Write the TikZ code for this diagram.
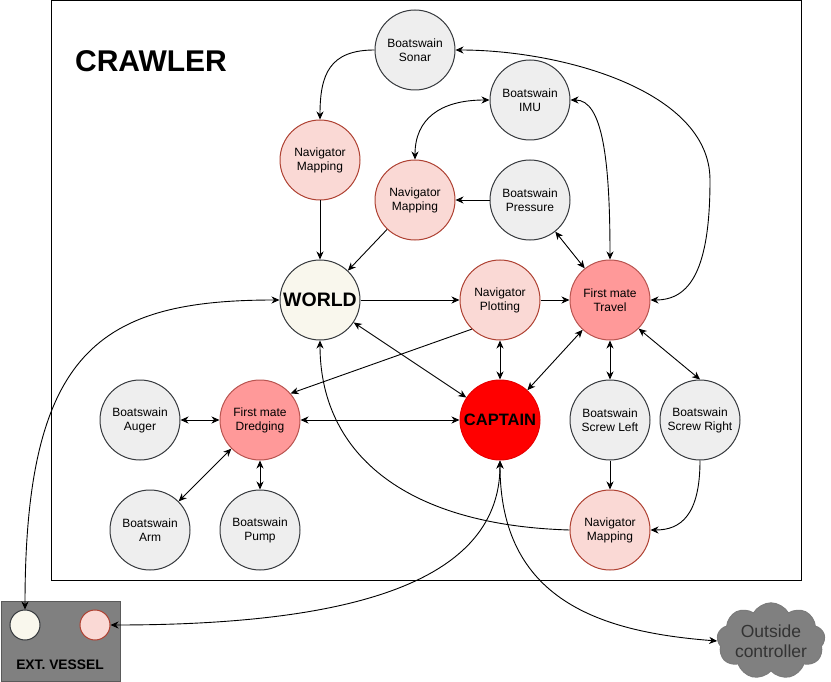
\documentclass[tikz,border=0pt]{standalone}
\usepackage{fontspec}
\setmainfont{Liberation Sans}
\usetikzlibrary{arrows.meta,shapes.symbols}
\definecolor{gfill}{HTML}{EEEEEE}
\definecolor{gline}{HTML}{36393D}
\definecolor{nfill}{HTML}{FAD9D5}
\definecolor{nline}{HTML}{AE4132}
\definecolor{ffill}{HTML}{FF9999}
\definecolor{fline}{HTML}{B85450}
\definecolor{wfill}{HTML}{F9F7ED}
\definecolor{cfill}{HTML}{FF0000}
\definecolor{cline}{HTML}{E60000}
\definecolor{vfill}{HTML}{808080}
\definecolor{vline}{HTML}{5A5A5A}
\definecolor{ctext}{HTML}{333333}
\tikzset{
  circ/.style={circle, minimum size=80pt, inner sep=0pt, line width=1pt, align=center,
    font=\fontsize{12}{14}\selectfont},
  bsw/.style={circ, fill=gfill, draw=gline},
  nav/.style={circ, fill=nfill, draw=nline},
  mate/.style={circ, fill=ffill, draw=fline},
  one/.style={line width=0.9pt, -{Stealth[length=8pt,width=7pt,inset=2.5pt]}},
  two/.style={line width=0.9pt, {Stealth[length=8pt,width=7pt,inset=2.5pt]}-{Stealth[length=8pt,width=7pt,inset=2.5pt]}},
}
\begin{document}
\begin{tikzpicture}[x=1pt,y=-1pt]
\useasboundingbox (0,0) rectangle (831,682);
\node[draw=black, line width=1pt, minimum width=750pt, minimum height=579pt, inner sep=0pt, anchor=north west] (frame) at (50.5,0.5) {};
\node[font=\fontsize{30}{32}\selectfont\bfseries] (crawler) at (151,61) {CRAWLER};

\node[bsw] (sonar) at (415,50) {Boatswain\\Sonar};
\node[bsw] (imu) at (530,100) {Boatswain\\IMU};
\node[nav] (nm1) at (320,160) {Navigator\\Mapping};
\node[nav] (nm2) at (415,200) {Navigator\\Mapping};
\node[bsw] (press) at (530,200) {Boatswain\\Pressure};
\node[circ, fill=wfill, draw=gline, font=\fontsize{19.5}{20}\selectfont\bfseries] (world) at (320,300) {WORLD};
\node[nav] (plot) at (500,300) {Navigator\\Plotting};
\node[mate] (travel) at (610,300) {First mate\\Travel};
\node[bsw] (auger) at (140,420) {Boatswain\\Auger};
\node[mate] (dredge) at (260,420) {First mate\\Dredging};
\node[circ, fill=cfill, draw=cline, font=\fontsize{16.5}{18}\selectfont\bfseries] (captain) at (500,420) {CAPTAIN};
\node[bsw] (sl) at (610,420) {Boatswain\\Screw Left};
\node[bsw] (sr) at (700,420) {Boatswain\\Screw Right};
\node[bsw] (arm) at (150,530) {Boatswain\\Arm};
\node[bsw] (pump) at (260,530) {Boatswain\\Pump};
\node[nav] (nm3) at (610,530) {Navigator\\Mapping};

% external vessel
\node[fill=vfill, draw=vline, line width=1pt, minimum width=119pt, minimum height=80pt, inner sep=0pt, anchor=north west] (vessel) at (0.5,600.5) {};
\node[circle, fill=wfill, draw=gline, line width=1pt, minimum size=30pt, inner sep=0pt] (vw) at (25,625) {};
\node[circle, fill=nfill, draw=nline, line width=1pt, minimum size=30pt, inner sep=0pt] (vn) at (95,625) {};
\node[font=\fontsize{13.8}{15}\selectfont\bfseries, text=black] (vlabel) at (60,665) {EXT. VESSEL};

% outside controller
\node[cloud, cloud puffs=9, cloud puff arc=120, aspect=1.7, fill=vfill, draw=vline!80, line width=1pt,
  minimum width=108pt, minimum height=66pt, inner sep=0pt, align=center, text=ctext,
  font=\fontsize{17.5}{20}\selectfont] (outside) at (771,641) {Outside\\controller};

% connectors
\draw[one] (sonar.west) .. controls +(-45,0) and +(0,-45) .. (nm1.north);
\draw[two] (sonar.east) .. controls (560,50) and (710,90) .. (710,180) .. controls (710,270) and (690,300) .. (travel.east);
\draw[two] (imu.west) .. controls +(-50,0) and +(0,-40) .. (nm2.north);
\draw[two] (imu.east) .. controls +(32,0) and +(0,-100) .. (travel.north);
\draw[one] (press.west) -- (nm2.east);
\draw[two] (press) -- (travel);
\draw[one] (nm1.south) -- (world.north);
\draw[one] (nm2) -- (world);
\draw[one] (world.east) -- (plot.west);
\draw[one] (plot.east) -- (travel.west);
\draw[two] (world) -- (captain);
\draw[two] (plot.south) -- (captain.north);
\draw[one] (plot.226) -- (dredge.41);
\draw[two] (travel) -- (captain);
\draw[two] (travel.south) -- (sl.north);
\draw[two] (travel.-45) -- (sr.north);
\draw[one] (sl.south) -- (nm3.north);
\draw[one] (sr.south) .. controls +(0,55) and +(30,0) .. (nm3.east);
\draw[one] (nm3.west) .. controls (400,525) and (320,450) .. (world.south);
\draw[two] (auger.east) -- (dredge.west);
\draw[two] (dredge.east) -- (captain.west);
\draw[two] (dredge.225) -- (arm.45);
\draw[two] (dredge.south) -- (pump.north);
\draw[two] (world.west) .. controls (100,300) and (25,350) .. (vw.north);
\draw[two] (captain.south) .. controls (500,590) and (330,625) .. (vn.east);
\draw[two] (captain.south) .. controls (500,600) and (600,632) .. (outside.west);
\end{tikzpicture}
\end{document}
